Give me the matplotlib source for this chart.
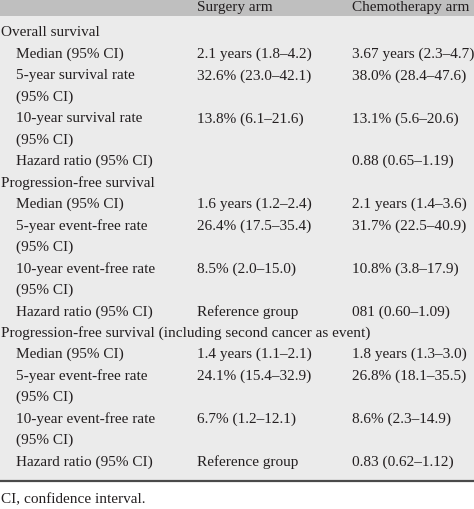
import matplotlib
matplotlib.use("Agg")
import matplotlib.pyplot as plt
from matplotlib.patches import Rectangle

# table content
headers = ["", "Surgery arm", "Chemotherapy arm"]
sections = [
    "Overall survival",
    "Progression-free survival",
    "Progression-free survival (including second cancer as event)",
]
row_labels = [
    ["Median (95% CI)", "5-year survival rate", "(95% CI)",
     "10-year survival rate", "(95% CI)", "Hazard ratio (95% CI)"],
    ["Median (95% CI)", "5-year event-free rate", "(95% CI)",
     "10-year event-free rate", "(95% CI)", "Hazard ratio (95% CI)"],
    ["Median (95% CI)", "5-year event-free rate", "(95% CI)",
     "10-year event-free rate", "(95% CI)", "Hazard ratio (95% CI)"],
]
surgery = [
    ["2.1 years (1.8\u20134.2)", "32.6% (23.0\u201342.1)", "",
     "13.8% (6.1\u201321.6)", "", ""],
    ["1.6 years (1.2\u20132.4)", "26.4% (17.5\u201335.4)", "",
     "8.5% (2.0\u201315.0)", "", "Reference group"],
    ["1.4 years (1.1\u20132.1)", "24.1% (15.4\u201332.9)", "",
     "6.7% (1.2\u201312.1)", "", "Reference group"],
]
chemo = [
    ["3.67 years (2.3\u20134.7)", "38.0% (28.4\u201347.6)", "",
     "13.1% (5.6\u201320.6)", "", "0.88 (0.65\u20131.19)"],
    ["2.1 years (1.4\u20133.6)", "31.7% (22.5\u201340.9)", "",
     "10.8% (3.8\u201317.9)", "", "081 (0.60\u20131.09)"],
    ["1.8 years (1.3\u20133.0)", "26.8% (18.1\u201335.5)", "",
     "8.6% (2.3\u201314.9)", "", "0.83 (0.62\u20131.12)"],
]
footnote = "CI, confidence interval."

W, H = 474, 510
fig = plt.figure(figsize=(W / 100, H / 100), dpi=100)
ax = fig.add_axes([0, 0, 1, 1])
ax.set_xlim(0, W)
ax.set_ylim(H, 0)
ax.axis("off")

font = dict(family="Liberation Serif", fontsize=11, color="#231f20", va="center")

# backgrounds
ax.add_patch(Rectangle((0, 0), W, 16.5, color="#bfbfbf", lw=0))
ax.add_patch(Rectangle((0, 16.5), W, 464, color="#ebebeb", lw=0))
ax.plot([0, W], [481.5, 481.5], color="#4a4a4a", lw=1.6, solid_capstyle="butt")

col_x = [16, 197, 352]
ax.text(col_x[1], 7, headers[1], **font)
ax.text(col_x[2], 7, headers[2], **font)

y0, pitch = 33, 21.45
row = 0
for s, title in enumerate(sections):
    ax.text(1, y0 + row * pitch, title, **font)
    row += 1
    for lab, a, b in zip(row_labels[s], surgery[s], chemo[s]):
        y = y0 + row * pitch
        ax.text(col_x[0], y, lab, **font)
        ax.text(col_x[1], y, a, **font)
        ax.text(col_x[2], y, b, **font)
        row += 1

ax.text(1, 500, footnote, **font)

fig.savefig("out.png", dpi=100, facecolor="white")
